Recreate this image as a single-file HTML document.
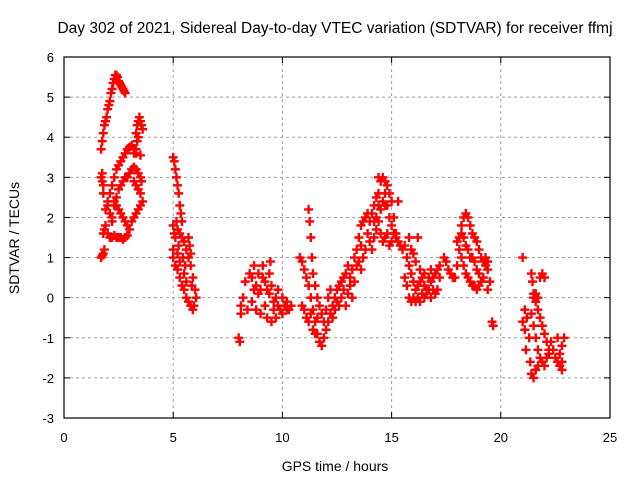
<!DOCTYPE html>
<html><head><meta charset="utf-8"><style>
body{margin:0;background:#fff}
svg{display:block;font-family:"Liberation Sans",sans-serif}
</style></head><body>
<svg id="chart" width="640" height="480" viewBox="0 0 640 480">
<text x="335" y="33" font-size="15.5" text-anchor="middle">Day 302 of 2021, Sidereal Day-to-day VTEC variation (SDTVAR) for receiver ffmj</text>
<text transform="translate(19,238) rotate(-90)" font-size="14" text-anchor="middle">SDTVAR / TECUs</text>
<text x="335" y="471" font-size="14" text-anchor="middle">GPS time / hours</text>
<g id="grid"></g><g id="ticks"></g><g id="marks"></g>
<rect x="64" y="57" width="546" height="361" fill="none" stroke="#000" stroke-width="1.2"/>
</svg>
<script>
const xTicks=[0,5,10,15,20,25];
const yTicks=[-3,-2,-1,0,1,2,3,4,5,6];
const samples=[
1.7,3.7,1.75,3.9,1.8,4.1,1.85,4.3,1.9,4.4,1.95,4.5,2.0,4.7,2.05,4.8,2.1,4.9,2.15,5.1,2.2,5.2,2.25,5.35,2.3,5.45,2.35,5.55,2.4,5.55,2.45,5.5,2.5,5.4,2.55,5.35,2.6,5.3,2.65,5.25,2.7,5.2,2.75,5.15,2.8,5.1,
3.3,4.1,3.35,4.3,3.4,4.4,3.45,4.5,3.5,4.4,3.55,4.3,3.6,4.2,3.4,4.0,3.35,3.9,3.3,3.7,3.2,3.6,
1.7,3.0,1.75,2.9,1.8,2.8,1.75,3.1,1.8,2.6,
2.0,2.4,2.1,2.6,2.2,2.8,2.3,3.0,2.4,3.2,2.5,3.3,2.6,3.4,2.7,3.5,2.8,3.6,2.9,3.7,3.0,3.75,3.1,3.8,3.2,3.7,3.3,3.6,3.5,3.55,
2.2,2.0,2.3,2.3,2.4,2.5,2.5,2.7,2.6,2.8,2.7,2.9,2.8,3.0,2.9,3.0,3.0,3.1,3.1,3.2,3.2,3.25,3.3,3.2,3.4,3.1,3.5,3.0,3.55,2.9,
2.3,2.4,2.4,2.3,2.5,2.2,2.6,2.1,2.7,2.0,2.8,1.9,2.9,1.8,
2.5,1.5,2.6,1.5,2.7,1.45,2.8,1.5,2.9,1.55,3.0,1.7,3.1,1.9,3.2,2.0,3.3,2.1,3.4,2.2,3.5,2.3,3.6,2.4,3.5,2.6,3.4,2.7,3.3,2.8,3.2,2.9,
1.7,1.0,1.75,1.05,1.8,1.1,1.85,1.2,1.8,1.6,1.85,1.7,1.9,1.8,2.0,1.6,2.1,1.5,2.2,1.5,2.3,1.55,2.4,1.5,1.9,2.2,2.0,2.3,2.1,2.1,2.2,1.9,
5.0,3.5,5.05,3.4,5.1,3.2,5.15,3.0,5.2,2.8,5.25,2.6,5.3,2.3,5.35,2.1,5.4,1.9,5.0,1.8,5.05,1.6,5.1,1.5,5.2,1.7,5.3,1.6,5.4,1.5,5.5,1.4,5.6,1.2,5.7,1.0,5.8,0.8,5.9,0.5,6.0,0.2,6.05,0.0,5.95,-0.2,5.85,0.3,5.7,1.5,5.75,1.3,5.8,1.1,5.0,1.0,5.1,0.8,5.2,0.7,5.3,0.5,5.4,0.3,5.5,0.2,5.6,0.0,5.7,-0.1,5.8,-0.2,5.9,-0.3,5.0,1.2,5.2,1.1,5.3,0.9,5.5,0.6,5.6,0.4,5.15,1.9,5.25,1.3,5.45,1.0,5.55,0.8,
8.0,-1.0,8.05,-1.1,8.1,-0.2,8.1,-0.4,8.2,0.0,8.3,0.4,8.4,-0.3,8.5,0.6,8.6,0.5,8.7,0.8,8.8,0.3,8.9,0.1,9.0,0.2,9.1,0.5,9.2,0.4,9.3,0.2,9.4,0.1,9.5,0.3,9.6,-0.1,9.7,0.0,9.8,-0.2,9.9,-0.3,10.0,-0.4,10.1,-0.2,10.2,-0.3,10.3,-0.3,8.8,-0.3,9.0,-0.4,9.2,-0.2,9.3,-0.5,9.5,-0.6,9.6,-0.3,9.7,-0.5,8.6,-0.1,8.7,0.2,9.1,0.8,9.4,0.6,9.8,0.2,10.0,0.0,10.2,-0.1,10.4,-0.2,9.45,0.9,8.9,0.6,
10.8,1.0,10.9,0.9,11.0,0.7,11.1,0.5,11.2,0.3,11.3,0.0,11.4,-0.3,11.5,-0.6,11.6,-0.9,11.7,-1.1,11.8,-1.2,11.9,-1.0,12.0,-0.8,12.1,-0.6,12.2,-0.4,12.3,-0.2,12.4,0.0,12.5,0.2,12.6,0.3,12.7,0.4,12.8,0.5,12.9,0.6,13.0,0.8,13.1,0.5,13.2,0.7,13.3,1.0,13.4,1.2,
11.2,2.2,11.25,1.9,11.3,1.5,11.35,1.0,11.4,0.6,11.5,0.3,11.6,0.0,11.7,-0.2,11.8,-0.4,11.9,-0.6,
10.9,-0.2,11.0,-0.3,11.1,-0.5,11.2,-0.6,11.3,-0.4,11.4,-0.8,11.5,-0.9,11.6,-0.5,12.0,-0.3,12.1,0.0,12.2,0.2,12.3,-0.5,12.4,-0.3,12.5,-0.1,12.6,-0.2,12.7,0.0,12.8,0.2,12.9,-0.2,13.0,0.1,13.1,0.3,13.2,0.0,13.3,0.4,13.4,0.8,
13.5,1.5,13.6,1.3,13.7,1.0,13.8,1.2,13.9,1.6,14.0,1.9,14.1,2.1,14.2,2.3,14.3,2.5,14.4,2.6,14.5,2.9,14.6,3.0,14.7,2.9,14.8,2.8,14.9,2.6,15.0,2.4,15.1,2.0,15.2,1.6,15.3,1.4,15.4,1.3,15.5,1.2,
13.6,1.8,13.7,1.9,13.8,2.0,13.9,2.1,14.0,1.4,14.1,1.2,14.2,1.5,14.3,1.7,14.4,1.9,14.5,2.2,14.6,2.4,14.7,2.6,14.8,2.3,14.9,2.0,15.0,1.8,15.1,1.6,15.2,1.5,13.5,0.9,13.6,0.7,14.3,2.0,14.4,2.3,14.2,1.9,15.3,2.4,14.5,1.6,14.6,1.4,14.7,1.5,14.8,1.6,14.9,1.3,15.0,1.4,14.4,3.0,14.7,2.3,
15.6,1.3,15.7,1.0,15.8,0.8,15.9,0.6,16.0,0.4,16.1,0.2,16.2,0.3,16.3,0.4,16.4,0.5,16.5,0.3,16.6,0.1,16.7,0.2,16.8,0.4,16.9,0.5,17.0,0.6,17.1,0.7,17.2,0.8,15.6,0.5,15.7,0.3,15.8,0.0,15.9,-0.1,16.0,0.0,16.1,-0.1,16.2,0.0,16.3,-0.1,16.4,0.1,16.5,0.0,16.6,0.2,16.7,0.5,16.8,0.7,16.9,0.2,17.0,0.1,17.1,0.2,15.9,1.2,16.0,1.1,16.1,0.9,16.3,0.7,16.5,0.6,16.8,0.0,17.2,0.5,15.8,1.5,16.2,1.5,
17.4,1.0,17.5,0.9,17.6,0.7,17.7,0.6,17.8,0.5,17.9,0.5,18.0,0.8,18.1,1.5,18.2,1.8,18.3,2.0,18.4,2.1,18.5,2.0,18.6,1.8,18.7,1.6,18.8,1.5,18.9,1.4,19.0,1.2,19.1,1.0,19.2,0.9,19.3,0.8,19.4,0.7,19.5,0.4,19.4,0.2,19.6,-0.6,19.65,-0.7,
18.0,1.4,18.1,1.2,18.2,1.0,18.3,0.8,18.4,0.6,18.5,0.5,18.6,0.4,18.7,0.3,18.8,0.3,18.9,0.2,19.0,0.3,19.1,0.4,19.2,0.5,18.2,1.6,18.3,1.5,18.4,1.3,18.5,1.2,18.6,1.0,18.7,1.0,18.8,0.9,18.9,0.7,19.0,0.6,19.3,1.0,19.4,0.9,
21.0,1.0,21.0,-0.6,21.1,-0.8,21.15,-1.3,21.2,-0.5,21.1,-0.3,21.3,-1.0,21.35,-1.6,21.4,-1.9,21.5,-2.0,21.6,-1.8,21.7,-1.7,21.8,-1.5,21.9,-1.6,22.0,-1.7,22.1,-1.5,22.2,-1.3,22.3,-1.1,22.4,-1.3,22.5,-1.5,22.6,-1.6,22.7,-1.4,22.8,-1.2,22.7,-1.7,22.8,-1.6,22.6,-1.0,
21.4,0.6,21.45,0.4,21.5,0.1,21.6,-0.1,21.7,-0.3,21.8,-0.5,21.9,-0.7,22.0,-0.9,22.1,-1.1,22.2,-1.4,21.5,0.0,21.6,0.1,21.7,0.0,21.8,0.5,21.9,0.6,22.0,0.5,21.4,-0.4,21.5,-0.7,21.6,-1.0,21.7,-1.3,22.9,-1.0,22.8,-1.8
];
const hours=samples.filter((v,i)=>i%2===0);
const values=samples.filter((v,i)=>i%2===1);

const NS='http://www.w3.org/2000/svg';
const L=64,R=610,T=57,B=418;
function xs(h){return L+(h-0)/(25-0)*(R-L);}
function ys(v){return B-(v+3)/(6+3)*(B-T);}
function mk(tag,attrs,parent){const e=document.createElementNS(NS,tag);for(const k in attrs)e.setAttribute(k,attrs[k]);parent.appendChild(e);return e;}
const grid=document.getElementById('grid'),ticks=document.getElementById('ticks'),marks=document.getElementById('marks');
xTicks.forEach(t=>{
  const x=xs(t);
  if(t>0&&t<25){const g=mk('line',{x1:x,x2:x,y1:T,y2:B,stroke:'#a0a0a0','stroke-dasharray':'3,3'},grid);
  
  }
  mk('line',{x1:x,x2:x,y1:B,y2:B-6,stroke:'#000'},ticks);
  mk('line',{x1:x,x2:x,y1:T,y2:T+6,stroke:'#000'},ticks);
  const tx=mk('text',{x:x,y:B+24,'font-size':13,'text-anchor':'middle'},ticks);tx.textContent=t;
  
  
});
yTicks.forEach(t=>{
  const y=ys(t);
  if(t>-3&&t<6){const g=mk('line',{x1:L,x2:R,y1:y,y2:y,stroke:'#a0a0a0','stroke-dasharray':'3,3'},grid);
  
  }
  mk('line',{x1:L,x2:L+6,y1:y,y2:y,stroke:'#000'},ticks);
  mk('line',{x1:R,x2:R-6,y1:y,y2:y,stroke:'#000'},ticks);
  const tx=mk('text',{x:L-10,y:y+5,'font-size':13,'text-anchor':'end'},ticks);tx.textContent=t;
  
  
});
hours.forEach((h,i)=>{
  const x=xs(h),y=ys(values[i]),s=4.5;
  const p=mk('path',{d:`M${x-s},${y}H${x+s}M${x},${y-s}V${y+s}`,stroke:'#f00','stroke-width':2.4,fill:'none'},marks);
  
  
});
</script>
</body></html>
